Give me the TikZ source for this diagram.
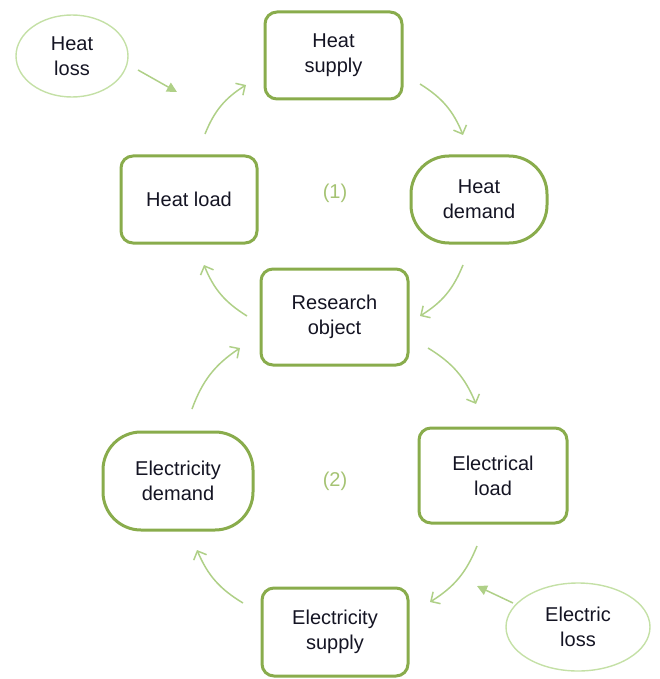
\documentclass[tikz,border=0pt]{standalone}
\usepackage{fontspec}
\setmainfont{Liberation Sans}
\usetikzlibrary{arrows.meta,shapes.geometric}
\definecolor{boxgreen}{RGB}{137,172,76}
\definecolor{arrgreen}{RGB}{175,208,135}
\definecolor{ellgreen}{RGB}{196,224,166}
\definecolor{numgreen}{RGB}{165,195,115}
\definecolor{txt}{RGB}{20,20,35}
\tikzset{
  box/.style={draw=boxgreen, line width=3pt, rounded corners=12pt, minimum width=#1, align=center, text=txt, font=\fontsize{20}{25}\selectfont},
  barrel/.style={draw=boxgreen, line width=3pt, rounded corners=38pt, align=center, text=txt, font=\fontsize{20}{25}\selectfont},
  loss/.style={draw=ellgreen, line width=1.4pt, ellipse, align=center, text=txt, font=\fontsize{20}{25}\selectfont},
  flow/.style={draw=arrgreen, line width=1.5pt, -{Straight Barb[length=7pt,width=14pt]}},
  lossarr/.style={draw=arrgreen, line width=1.5pt, -{Triangle[length=10pt,width=10pt]}},
  num/.style={text=numgreen, font=\fontsize{20}{25}\selectfont}
}
\begin{document}
\begin{tikzpicture}[x=1pt,y=-1pt]
\useasboundingbox (0,0) rectangle (659,679);
% boxes
\node[box=137pt, minimum height=87pt] (hs) at (333.5,55.5) {Heat\\supply};
\node[box=136pt, minimum height=87pt] (hl) at (189,199.5) {Heat load};
\node[barrel, minimum width=136pt, minimum height=87pt] (hd) at (479,199.5) {Heat\\demand};
\node[box=147pt, minimum height=96pt] (ro) at (334.5,317) {Research\\object};
\node[barrel, minimum width=150pt, minimum height=98pt] (ed) at (178,481) {Electricity\\demand};
\node[box=148pt, minimum height=95pt] (el) at (493,475.5) {Electrical\\load};
\node[box=146pt, minimum height=88pt] (es) at (335,632) {Electricity\\supply};
% loss ellipses
\node[loss, minimum width=112pt, minimum height=82pt, inner sep=0pt] (hloss) at (72,56) {Heat\\loss};
\node[loss, minimum width=144pt, minimum height=88pt, inner sep=0pt] (eloss) at (578,627) {Electric\\loss};
% numbers
\node[num] (n1) at (335,193) {(1)};
\node[num] (n2) at (335,481) {(2)};
% arrow end points
\coordinate (a1s) at (205,134); \coordinate (a1e) at (246,85);
\coordinate (a2s) at (420,84);  \coordinate (a2e) at (463,135);
\coordinate (a3s) at (463,265); \coordinate (a3e) at (420,316);
\coordinate (a4s) at (247,316); \coordinate (a4e) at (204,265);
\coordinate (a5s) at (428,348); \coordinate (a5e) at (476,404);
\coordinate (a6s) at (477,546); \coordinate (a6e) at (430,602);
\coordinate (a7s) at (243,603); \coordinate (a7e) at (197,550);
\coordinate (a8s) at (192,409); \coordinate (a8e) at (240,348);
\coordinate (l1s) at (138,70);  \coordinate (l1e) at (177,92);
\coordinate (l2s) at (513,603); \coordinate (l2e) at (477,586);
\draw[flow] (a1s) to[bend left=18] (a1e);
\draw[flow] (a2s) to[bend left=18] (a2e);
\draw[flow] (a3s) to[bend left=18] (a3e);
\draw[flow] (a4s) to[bend left=18] (a4e);
\draw[flow] (a5s) to[bend left=18] (a5e);
\draw[flow] (a6s) to[bend left=18] (a6e);
\draw[flow] (a7s) to[bend left=18] (a7e);
\draw[flow] (a8s) to[bend left=18] (a8e);
\draw[lossarr] (l1s) -- (l1e);
\draw[lossarr] (l2s) -- (l2e);
\end{tikzpicture}
\end{document}
